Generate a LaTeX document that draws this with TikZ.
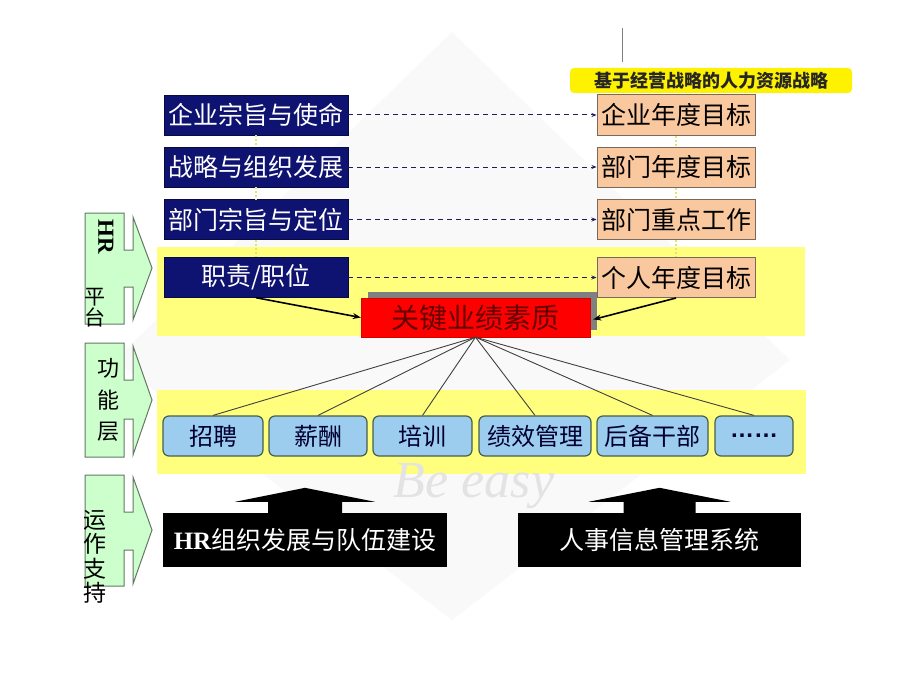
\documentclass[tikz,border=0pt]{standalone}
\usepackage{fontspec}
\newfontfamily\cjk{Noto Sans CJK SC}
\newfontfamily\tnr{Liberation Serif}
\newfontfamily\arial{Liberation Sans}
\usetikzlibrary{arrows.meta,calc}
\definecolor{navy}{RGB}{14,18,112}
\definecolor{peach}{RGB}{250,200,158}
\definecolor{peachline}{RGB}{120,105,90}
\definecolor{band}{RGB}{255,255,125}
\definecolor{lblue}{RGB}{156,204,238}
\definecolor{lblueline}{RGB}{70,95,75}
\definecolor{lgreen}{RGB}{205,255,205}
\definecolor{lgreenline}{RGB}{100,120,100}
\definecolor{darkred}{RGB}{100,0,0}
\definecolor{dashnavy}{RGB}{30,30,95}
\definecolor{dotyellow}{RGB}{225,230,110}
\begin{document}
\begin{tikzpicture}[x=1pt,y=-1pt,
  navybox/.style={draw=navy!60!black, fill=navy, text=white, minimum width=184pt, minimum height=40pt, inner sep=0pt, font=\cjk\fontsize{25}{28}\selectfont},
  peachbox/.style={draw=peachline, line width=1pt, fill=peach, text=black, minimum width=158pt, minimum height=40pt, inner sep=0pt, font=\cjk\fontsize{25}{28}\selectfont},
  funcbox/.style={draw=lblueline, line width=1.2pt, fill=lblue, rounded corners=6pt, text=black!80!blue, minimum height=40pt, inner sep=0pt, font=\cjk\fontsize{24}{28}\selectfont},
  blackbody/.style={fill=black, text=white, minimum height=54pt, inner sep=0pt, font=\cjk\fontsize{25}{28}\selectfont},
  greenarrow/.style={draw=lgreenline, line width=1pt, fill=lgreen},
  sidelabel/.style={inner sep=0pt, text=black, font=\cjk\fontsize{22}{24}\selectfont},
  dashlink/.style={draw=dashnavy, line width=1pt, dash pattern=on 5pt off 4pt, -{Stealth[length=5pt,width=4pt]}},
  dotlink/.style={draw=dotyellow, line width=2pt, dotted},
  keyarrow/.style={draw=black, line width=1.6pt, -{Stealth[length=8pt,width=6pt]}},
  fanline/.style={draw=black!75, line width=0.9pt}
]
\useasboundingbox (0,0) rectangle (920,690);
\fill[white] (0,0) rectangle (920,690);
% faint watermark
\fill[black!2.5] (452,32) -- (790,360) -- (452,620) -- (115,360) -- cycle;
% yellow bands
\fill[band] (157,247) rectangle (805,336);
\fill[band] (157,390) rectangle (806,474);
\node[text=black!11, font=\tnr\itshape\fontsize{52}{54}\selectfont, inner sep=0pt] (wm) at (474,486) {Be easy};

% top gray line and label
\coordinate (g1) at (622,28);
\coordinate (g2) at (622,62);
\draw[gray, line width=1pt] (g1) -- (g2);
\node[fill=yellow, rounded corners=4pt, minimum width=282pt, minimum height=25pt, inner sep=0pt, text=black!85, font=\cjk\bfseries\fontsize{18}{20}\selectfont] (lab) at (711,80.5) {基于经营战略的人力资源战略};

% left column
\node[navybox] (n1) at (256,115) {企业宗旨与使命};
\node[navybox] (n2) at (256,167) {战略与组织发展};
\node[navybox] (n3) at (256,219.5) {部门宗旨与定位};
\node[navybox] (n4) at (256,277.5) {职责/职位};
% right column
\node[peachbox] (p1) at (676,115) {企业年度目标};
\node[peachbox] (p2) at (676,167) {部门年度目标};
\node[peachbox] (p3) at (676,219.5) {部门重点工作};
\node[peachbox] (p4) at (676,277.5) {个人年度目标};

\draw[dotlink] (n1) -- (n2);
\draw[dotlink] (n2) -- (n3);
\draw[dotlink] (n3) -- (n4);
\draw[dotlink] (p1) -- (p2);
\draw[dotlink] (p2) -- (p3);
\draw[dotlink] (p3) -- (p4);

\draw[dashlink] (n1) -- (p1);
\draw[dashlink] (n2) -- (p2);
\draw[dashlink] (n3) -- (p3);
\draw[dashlink] (n4) -- (p4);

% key competence box
\node[fill=black!50, minimum width=229pt, minimum height=38pt, inner sep=0pt] (shadow) at (482.5,311) {};
\node[fill=red, draw=red!85!black, minimum width=229pt, minimum height=39pt, inner sep=0pt, text=darkred, font=\cjk\fontsize{28}{30}\selectfont] (key) at (475.5,317.5) {关键业绩素质};

\draw[keyarrow] (n4.south) -- (key.west);
\draw[keyarrow] (p4.south) -- ([xshift=3pt,yshift=-2pt]key.east);

% function boxes
\node[funcbox, minimum width=100pt] (f1) at (213,436) {招聘};
\node[funcbox, minimum width=98pt] (f2) at (318,436) {薪酬};
\node[funcbox, minimum width=99pt] (f3) at (422.5,436) {培训};
\node[funcbox, minimum width=112pt] (f4) at (535,436) {绩效管理};
\node[funcbox, minimum width=111pt] (f5) at (652.5,436) {后备干部};
\node[funcbox, minimum width=78pt, font=\arial\bfseries\fontsize{24}{28}\selectfont] (f6) at (754,436) {……};

\foreach \f in {f1,f2,f3,f4,f5,f6}{\draw[fanline] (key.south) -- (\f.north);}

% black support arrows
\node[blackbody, minimum width=284pt] (hrorg) at (305,540) {{\tnr\bfseries HR}组织发展与队伍建设};
\node[blackbody, minimum width=283pt] (hris) at (659.5,540) {人事信息管理系统};
\fill[black] (hrorg.north) ++(-37,1) -- ++(0,-12) -- ++(-33,0) -- ++(70,-14) -- ++(70,14) -- ++(-33,0) -- ++(0,12) -- cycle;
\fill[black] (hris.north) ++(-36,1) -- ++(0,-12) -- ++(-35,0) -- ++(71,-14) -- ++(71,14) -- ++(-35,0) -- ++(0,12) -- cycle;

% left green arrows
\draw[greenarrow] (85,213) -- (124,213) -- (124,250) -- (133,250) -- (133,217) -- (152,268) -- (133,320) -- (133,287) -- (124,287) -- (124,324) -- (85,324) -- cycle;
\draw[greenarrow] (85,343) -- (124,343) -- (124,380) -- (133,380) -- (133,346) -- (152,400) -- (133,455) -- (133,419) -- (124,419) -- (124,457) -- (85,457) -- cycle;
\draw[greenarrow] (85,475) -- (124,475) -- (124,512) -- (133,512) -- (133,477) -- (152,530) -- (133,584) -- (133,550) -- (124,550) -- (124,586) -- (85,586) -- cycle;

\node[sidelabel, rotate=-90, font=\tnr\bfseries\fontsize{23}{24}\selectfont] (hr) at (106,237) {HR};
\node[sidelabel, align=center, font=\cjk\fontsize{21}{21}\selectfont] (plat) at (95,308) {平\\台};
\node[sidelabel, align=center, font=\cjk\fontsize{22}{31.5}\selectfont] (func) at (108,400) {功\\能\\层};
\node[sidelabel, align=center, font=\cjk\fontsize{23}{24.5}\selectfont] (ops) at (95,557) {运\\作\\支\\持};
\end{tikzpicture}
\end{document}
